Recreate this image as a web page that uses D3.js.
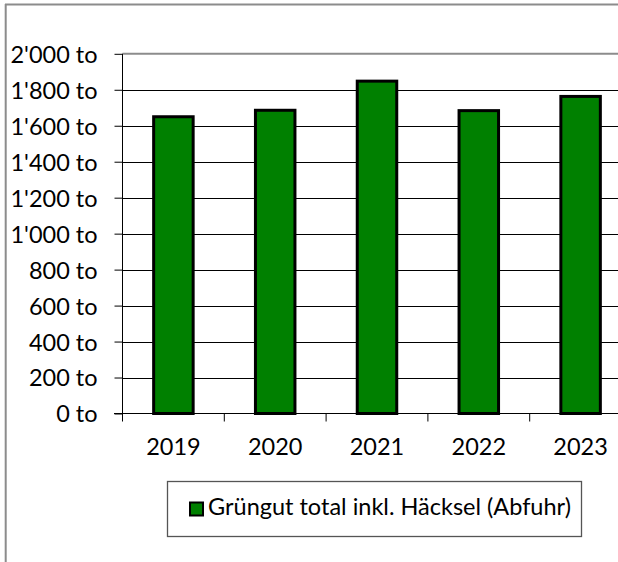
<!DOCTYPE html>
<html>
<head>
<meta charset="utf-8">
<script src="https://cdn.jsdelivr.net/npm/d3@7"></script>
<style>
  html, body { margin: 0; padding: 0; background: #fff; }
  svg { display: block; }
  text { font-family: Lato, "Open Sans", sans-serif; fill: #000; }
</style>
</head>
<body>
<svg id="chart" width="618" height="562"></svg>
<script>
const categories = ["2019", "2020", "2021", "2022", "2023"];
const values = [1650, 1686, 1848, 1684, 1763];
const yTicks = [0, 200, 400, 600, 800, 1000, 1200, 1400, 1600, 1800, 2000];
const seriesName = "Grüngut total inkl. Häcksel (Abfuhr)";

const svg = d3.select("#chart");
const fmt = v => d3.format(",")(v).replace(/,/g, "'") + " to";
const FS = 23.5;

const x = d3.scaleBand().domain(categories).range([122.5, 631.5]).paddingInner(0).paddingOuter(0);
const y = d3.scaleLinear().domain([0, 2000]).range([413.5, 53.8]);

// outer frame (gray)
svg.append("line").attr("x1", 5).attr("x2", 618).attr("y1", 4.5).attr("y2", 4.5)
  .attr("stroke", "#8c8c8c").attr("stroke-width", 2);
svg.append("line").attr("x1", 5.7).attr("x2", 5.7).attr("y1", 4).attr("y2", 562)
  .attr("stroke", "#8c8c8c").attr("stroke-width", 2);

// gridlines
svg.append("g").selectAll("line").data(yTicks.filter(d => d > 0 && d < 2000)).join("line")
  .attr("x1", 122.5).attr("x2", 618)
  .attr("y1", d => Math.round(y(d)) + 0.5).attr("y2", d => Math.round(y(d)) + 0.5)
  .attr("stroke", "#000").attr("stroke-width", 1);
// plot area top border
svg.append("line").attr("x1", 122.5).attr("x2", 618)
  .attr("y1", y(2000)).attr("y2", y(2000))
  .attr("stroke", "#8c8c8c").attr("stroke-width", 2);

// bars
const barW = 39.5;
svg.append("g").selectAll("rect").data(values).join("rect")
  .attr("x", (d, i) => x(categories[i]) + x.bandwidth() / 2 - barW / 2)
  .attr("y", d => y(d))
  .attr("width", barW)
  .attr("height", d => y(0) - y(d))
  .attr("fill", "#008000")
  .attr("stroke", "#000")
  .attr("stroke-width", 3);

// y axis
const yAxis = d3.axisLeft(y).tickValues(yTicks).tickFormat(fmt).tickSize(8).tickPadding(17);
const gy = svg.append("g").attr("transform", "translate(122.5,0)").call(yAxis);
gy.select(".domain").attr("stroke", "#000").attr("d", `M0,${y(2000)}V${y(0)}`);
gy.selectAll(".tick line").attr("stroke", "#000");
gy.selectAll(".tick text").attr("font-size", FS).attr("font-family", "Lato").attr("fill", "#000").attr("dy", "0.36em");

// x axis
const xAxis = d3.axisBottom(x).tickSize(0).tickPadding(0);
const gx = svg.append("g").attr("transform", `translate(0,${y(0)})`).call(xAxis);
gx.select(".domain").attr("stroke", "#000").attr("d", `M114,0H618`);
gx.selectAll(".tick text").attr("font-size", FS).attr("font-family", "Lato").attr("fill", "#000")
  .attr("dy", null).attr("y", 41);
// category boundary ticks
svg.append("g").selectAll("line").data(categories).join("line")
  .attr("x1", d => x(d)).attr("x2", d => x(d))
  .attr("y1", y(0)).attr("y2", y(0) + 8)
  .attr("stroke", "#000").attr("stroke-width", 1);

// legend
const lg = svg.append("g");
lg.append("rect").attr("x", 167.5).attr("y", 481.5).attr("width", 414).attr("height", 55)
  .attr("fill", "#fff").attr("stroke", "#555").attr("stroke-width", 1.3);
lg.append("rect").attr("x", 190).attr("y", 502.5).attr("width", 13).attr("height", 13)
  .attr("fill", "#008000").attr("stroke", "#000").attr("stroke-width", 2);
lg.append("text").attr("x", 208).attr("y", 515).attr("font-size", FS).attr("font-family", "Lato")
  .text(seriesName);
</script>
</body>
</html>
